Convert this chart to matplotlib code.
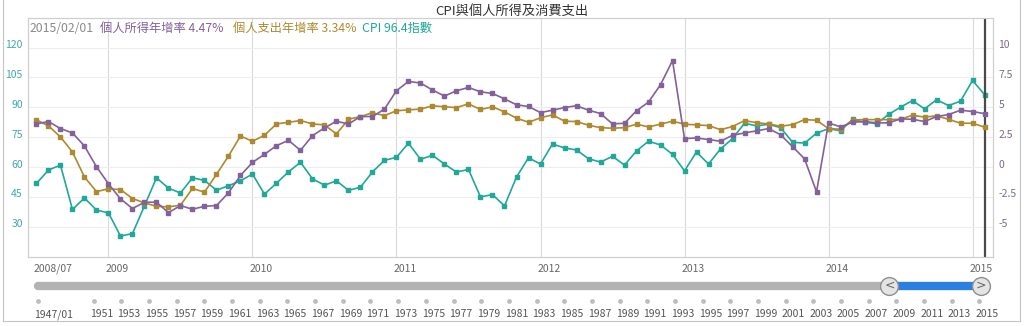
import matplotlib

matplotlib.use('Agg')
import matplotlib.pyplot as plt
from matplotlib.lines import Line2D
from matplotlib.transforms import ScaledTranslation
import numpy as np

plt.rcParams['font.family'] = ['Noto Sans CJK TC', 'DejaVu Sans']

PURPLE = '#83619b'
GOLD = '#ad8a2f'
TEAL = '#21a898'

# monthly series, 2008/07 .. 2015/02
date_label = '2015/02/01'

income_yoy = [3.61, 3.81, 3.22, 2.86, 1.76, 0.03, -1.40, -2.66, -3.47, -2.94,
              -2.94, -3.81, -3.22, -3.53, -3.28, -3.22, -2.16, -0.70, 0.39, 1.07,
              1.79, 2.24, 1.40, 2.63, 3.28, 3.84, 3.60, 4.23, 4.23, 4.85,
              6.39, 7.17, 7.03, 6.45, 5.94, 6.39, 6.66, 6.30, 6.16, 5.71,
              5.21, 5.07, 4.56, 4.76, 4.98, 5.13, 4.76, 4.48, 3.61, 3.67,
              4.71, 5.44, 6.89, 8.91, 2.38, 2.44, 2.30, 2.16, 2.66, 2.86,
              3.03, 3.22, 2.71, 1.71, 0.70, -2.07, 3.70, 3.36, 3.75, 3.81,
              3.70, 3.70, 4.03, 4.00, 3.81, 4.23, 4.39, 4.76, 4.65, 4.47]

spending_yoy = [3.95, 3.45, 2.52, 1.26, -0.83, -2.05, -1.82, -1.88, -2.63, -3.00,
                -3.28, -3.33, -3.19, -1.79, -2.10, -0.61, 0.92, 2.60, 2.16, 2.66,
                3.61, 3.75, 3.89, 3.61, 3.53, 2.77, 4.00, 4.23, 4.54, 4.31,
                4.71, 4.79, 4.85, 5.13, 5.04, 4.98, 5.29, 4.82, 5.04, 4.62,
                4.09, 3.75, 4.12, 4.37, 3.84, 3.81, 3.50, 3.30, 3.25, 3.30,
                3.59, 3.36, 3.59, 3.84, 3.59, 3.53, 3.47, 3.13, 3.39, 3.89,
                3.72, 3.61, 3.42, 3.55, 3.97, 3.92, 3.22, 3.17, 3.95, 3.97,
                3.97, 3.97, 4.00, 4.34, 4.18, 4.29, 4.00, 3.67, 3.67, 3.34]

cpi_index = [51.8, 58.5, 61.0, 38.7, 44.5, 38.4, 37.0, 25.4, 26.6, 40.5,
             54.6, 49.4, 47.0, 54.6, 53.3, 48.4, 50.6, 53.1, 56.5, 46.4,
             51.9, 57.6, 62.4, 54.1, 50.9, 53.1, 48.3, 49.9, 57.6, 63.4,
             64.9, 72.0, 63.9, 65.9, 61.5, 57.5, 58.8, 45.0, 46.2, 40.5,
             55.0, 64.7, 61.5, 71.6, 69.6, 68.6, 64.2, 62.5, 65.4, 61.0,
             68.1, 73.0, 71.1, 66.4, 58.1, 67.6, 61.5, 69.1, 74.3, 82.0,
             80.7, 81.5, 79.8, 72.5, 72.0, 77.0, 79.3, 78.2, 83.9, 82.5,
             81.8, 86.4, 90.1, 93.4, 89.2, 93.8, 90.9, 93.1, 103.5, 96.4]

tick_months = [0, 6, 18, 30, 42, 54, 66, 78]
tick_labels = ['2008/07', '2009', '2010', '2011', '2012', '2013', '2014', '2015']

cpi_ticks = [30, 45, 60, 75, 90, 105, 120]
rate_ticks = [-5, -2.5, 0, 2.5, 5, 7.5, 10]
rate_tick_labels = ['-5', '-2.5', '0', '2.5', '5', '7.5', '10']

# range navigator along the bottom
nav_years = [1947] + list(range(1951, 2016, 2))
nav_labels = ['1947/01'] + [str(y) for y in range(1951, 2016, 2)]
nav_start, nav_end = 1947.0, 2015.08
sel_start, sel_end = 2008.5, 2015.08

W, H = 1024, 326
fig = plt.figure(figsize=(W / 100, H / 100), dpi=100)
fig.patch.set_facecolor('white')


def px_box(x0, y0, x1, y1):
    return [x0 / W, 1 - y1 / H, (x1 - x0) / W, (y1 - y0) / H]


ax = fig.add_axes(px_box(28.3, 17.7, 992.7, 256.7))
ax2 = ax.twinx()

x = np.arange(len(cpi_index))
ax.plot(x, cpi_index, color=TEAL, lw=1.2, marker='s', ms=3, zorder=3)
ax2.plot(x, spending_yoy, color=GOLD, lw=1.2, marker='s', ms=3)
ax2.plot(x, income_yoy, color=PURPLE, lw=1.2, marker='s', ms=3)

ax.set_xlim(-0.68, 79.68)
ax.set_ylim(15, 135)
ax2.set_ylim(-7.5, 12.5)

ax.set_xticks(tick_months, tick_labels)
ax.set_yticks(cpi_ticks)
ax2.set_yticks(rate_ticks, rate_tick_labels)

ax.grid(axis='y', color='#eeeeee', lw=0.8)
ax.grid(axis='x', color='#dadada', lw=0.8)
ax.xaxis.get_gridlines()[0].set_visible(False)
ax.set_axisbelow(True)

ax.tick_params(axis='x', length=0, pad=5, labelsize=7.5, labelcolor='#666666')
ax.tick_params(axis='y', length=0, pad=4, labelsize=7.5, labelcolor='#44a6a6')
ax2.tick_params(axis='y', length=0, pad=4, labelsize=7.5, labelcolor='#7b6a89')

for a in (ax, ax2):
    for s in a.spines.values():
        s.set_color('#cfcfcf')
        s.set_linewidth(0.8)

shift_left = ScaledTranslation(-3 / 100, 0, fig.dpi_scale_trans)
for lbl in ax.get_xticklabels():
    lbl.set_ha('left')
    lbl.set_transform(lbl.get_transform() + shift_left)
shift_up = ScaledTranslation(0, 3.5 / 100, fig.dpi_scale_trans)
for lbl in ax.get_yticklabels() + ax2.get_yticklabels():
    lbl.set_transform(lbl.get_transform() + shift_up)

# cursor at the latest month
ax.axvline(x[-1], color='#4a4a4a', lw=1.6, zorder=4)

# title, readout and outer frame in pixel space
page = fig.add_axes([0, 0, 1, 1])
page.set_xlim(0, W)
page.set_ylim(H, 0)
page.axis('off')

page.text(512, 11, 'CPI與個人所得及消費支出', ha='center', va='center',
          fontsize=9.5, color='#333333')
readout = [
    (30, date_label, '#8a8a8a'),
    (100, f'個人所得年增率 {income_yoy[-1]:.2f}%', PURPLE),
    (233, f'個人支出年增率 {spending_yoy[-1]:.2f}%', GOLD),
    (362, f'CPI {cpi_index[-1]:.1f}指數', TEAL),
]
for xp, txt, col in readout:
    page.text(xp, 32, txt, ha='left', va='baseline', fontsize=8.8, color=col)

for xs, ys in [([3, 3], [0, 321]), ([3, 1020], [321, 321]), ([1020, 1020], [0, 321])]:
    page.add_line(Line2D(xs, ys, color='#c4c4c4', lw=0.8))

nav = fig.add_axes([0, 0, 1, 1])
nav.set_xlim(1944.23, 2018.22)
nav.set_ylim(H, 0)
nav.axis('off')

nav.plot([nav_start, sel_start], [286, 286], color='#b3b3b3', lw=6,
         solid_capstyle='round')
nav.plot([sel_start, sel_end], [286, 286], color='#2b7fe3', lw=6,
         solid_capstyle='butt')
nav.scatter([sel_start, sel_end], [286, 286], s=165, facecolor='#e4e4e4',
            edgecolor='#8f8f8f', linewidth=1, zorder=3)
nav.text(sel_start, 285.5, '<', ha='center', va='center', fontsize=9,
         color='#666666', zorder=4, family='DejaVu Sans')
nav.text(sel_end, 285.5, '>', ha='center', va='center', fontsize=9,
         color='#666666', zorder=4, family='DejaVu Sans')

nav.scatter(nav_years, [300.7] * len(nav_years), s=12, color='#bdbdbd',
            linewidths=0)
label_shift = nav.transData + ScaledTranslation(-4 / 100, 0, fig.dpi_scale_trans)
for yr, txt in zip(nav_years, nav_labels):
    nav.text(yr, 317, txt, ha='left', va='baseline', fontsize=7.5,
             color='#555555', transform=label_shift)

fig.savefig('out.png', dpi=100)
